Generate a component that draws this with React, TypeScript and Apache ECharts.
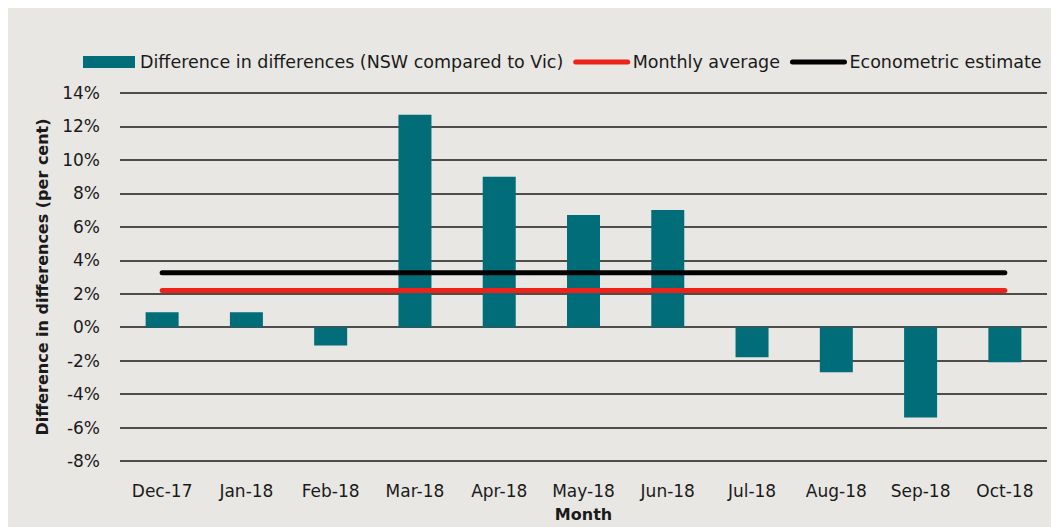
import React, { useEffect, useRef } from "react";
import * as echarts from "echarts";

const months = ["Dec-17", "Jan-18", "Feb-18", "Mar-18", "Apr-18", "May-18", "Jun-18", "Jul-18", "Aug-18", "Sep-18", "Oct-18"];
const diffInDiff = [0.9, 0.9, -1.1, 12.7, 9.0, 6.7, 7.0, -1.8, -2.7, -5.4, -2.1];
const monthlyAverage = [2.2, 2.2, 2.2, 2.2, 2.2, 2.2, 2.2, 2.2, 2.2, 2.2, 2.2];
const econometricEstimate = [3.25, 3.25, 3.25, 3.25, 3.25, 3.25, 3.25, 3.25, 3.25, 3.25, 3.25];

const FONT = "DejaVu Sans";

export default function App() {
  const ref = useRef<HTMLDivElement>(null);
  useEffect(() => {
    if (!ref.current) return;
    const chart = echarts.init(ref.current, null, { renderer: "svg" });
    chart.setOption({
      animation: false,
      backgroundColor: "#e8e7e3",
      textStyle: { fontFamily: FONT, color: "#1a1a1a" },
      legend: {
        top: 45,
        left: 75,
        width: 1000,
        padding: 0,
        itemWidth: 52,
        itemHeight: 12,
        itemGap: 10,
        textStyle: { fontSize: 17.5, color: "#1a1a1a", fontFamily: FONT },
        data: [
          { name: "Difference in differences (NSW compared to Vic)", icon: "rect" },
          {
            name: "Monthly average",
            itemStyle: { opacity: 0 },
            lineStyle: { width: 5, cap: "round", color: "#ee2219" },
          },
          {
            name: "Econometric estimate",
            itemStyle: { opacity: 0 },
            lineStyle: { width: 5, cap: "round", color: "#000000" },
          },
        ],
      },
      grid: { left: 112, right: 12, top: 85, bottom: 61 },
      xAxis: {
        type: "category",
        data: months,
        name: "Month",
        nameLocation: "middle",
        nameGap: 45,
        nameTextStyle: { fontSize: 16, fontWeight: "bold", color: "#1a1a1a" },
        axisLine: { show: false },
        axisTick: { show: false },
        axisLabel: { fontSize: 17, color: "#1a1a1a", margin: 21 },
      },
      yAxis: {
        type: "value",
        min: -8,
        max: 14,
        interval: 2,
        name: "Difference in differences (per cent)",
        nameLocation: "middle",
        nameGap: 70,
        nameTextStyle: { fontSize: 16, fontWeight: "bold", color: "#1a1a1a" },
        axisLine: { show: false },
        axisTick: { show: false },
        axisLabel: { fontSize: 17, color: "#1a1a1a", margin: 20, formatter: "{value}%" },
        splitLine: { lineStyle: { color: "#1a1a1a", width: 1.5 } },
      },
      series: [
        {
          name: "Difference in differences (NSW compared to Vic)",
          type: "bar",
          data: diffInDiff,
          barWidth: 33,
          itemStyle: { color: "#006d79" },
        },
        {
          name: "Monthly average",
          type: "line",
          data: monthlyAverage,
          symbol: "none",
          color: "#ee2219",
          lineStyle: { color: "#ee2219", width: 5, cap: "round" },
        },
        {
          name: "Econometric estimate",
          type: "line",
          data: econometricEstimate,
          symbol: "none",
          color: "#000000",
          lineStyle: { color: "#000000", width: 5, cap: "round" },
        },
      ],
    });
    return () => chart.dispose();
  }, []);
  return <div ref={ref} style={{ width: 1051, height: 519 }} />;
}
